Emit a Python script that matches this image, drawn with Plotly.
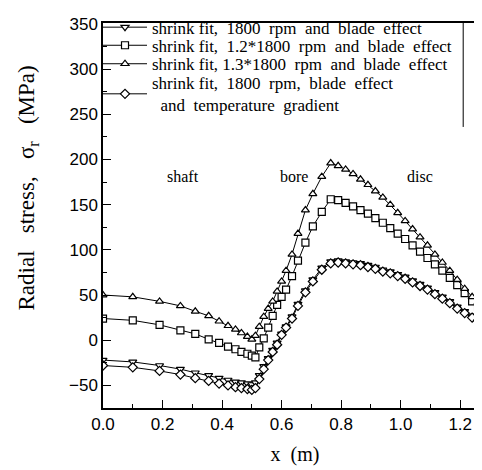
import plotly.graph_objects as go

x_pos = [0.0, 0.1, 0.19, 0.26, 0.31, 0.355, 0.39, 0.42, 0.445, 0.465, 0.485, 0.5, 0.512,
         0.525, 0.54, 0.555, 0.57, 0.585, 0.60, 0.615, 0.635, 0.655, 0.68, 0.705, 0.735, 0.765,
         0.79, 0.815, 0.84, 0.865, 0.89, 0.915, 0.94, 0.965, 0.99, 1.015, 1.04, 1.065, 1.09,
         1.115, 1.14, 1.165, 1.19, 1.215, 1.24, 1.26, 1.275]

s_1800 = [-22, -24, -28, -32, -36, -39, -42, -44, -46, -47, -48, -49, -47,
          -39, -29, -20, -11, -3, 7, 15, 26, 40, 55, 67, 80, 87,
          88, 87, 86, 85, 83, 81, 78, 76, 73, 70, 66, 62, 58,
          53, 48, 43, 37, 32, 27, 24, 23]
s_1_2 = [24, 22, 17, 11, 7, 1, -3, -7, -10, -13, -15, -17, -19,
         -8, 2, 14, 27, 39, 48, 56, 71, 88, 108, 126, 142, 156,
         155, 152, 148, 144, 140, 135, 130, 124, 118, 112, 105, 98, 91,
         84, 77, 69, 61, 52, 43, 37, 31]
s_1_3 = [50, 48, 43, 38, 32, 27, 21, 16, 12, 8, 4, 1, 5,
         15, 26, 35, 43, 54, 65, 77, 95, 118, 144, 162, 181, 196,
         193, 189, 184, 178, 172, 165, 158, 150, 141, 132, 123, 114, 105,
         95, 86, 77, 67, 57, 48, 42, 37]
s_temp = [-28, -30, -34, -38, -42, -45, -48, -50, -52, -53, -54, -55, -53,
          -43, -32, -22, -13, -5, 6, 14, 24, 38, 53, 65, 78, 85,
          86, 85, 84, 83, 81, 79, 76, 74, 71, 68, 64, 60, 56,
          51, 46, 41, 35, 30, 25, 22, 20]

names = ["shrink fit,  1800  rpm  and  blade  effect",
         "shrink fit,  1.2*1800  rpm  and  blade  effect",
         "shrink fit, 1.3*1800  rpm  and  blade  effect",
         "shrink fit,  1800  rpm,  blade  effect<br>  and  temperature  gradient"]
symbols = ["triangle-down", "square", "triangle-up", "diamond"]
series = [s_1800, s_1_2, s_1_3, s_temp]
legend_ids = ["legend", "legend2", "legend3", "legend4"]
legend_y = [0.988, 0.941, 0.893, 0.815]

region_labels = ["shaft", "bore", "disc"]
region_x = [0.27, 0.64, 1.064]
region_y = [181, 181, 181]

fig = go.Figure()
for name, sym, ys, lid in zip(names, symbols, series, legend_ids):
    fig.add_trace(go.Scatter(
        x=x_pos, y=ys, mode="lines+markers", name=name, legend=lid,
        line=dict(color="black", width=1),
        marker=dict(symbol=sym, size=7, color="white",
                    line=dict(color="black", width=1.2)),
    ))

for t, xx, yy in zip(region_labels, region_x, region_y):
    fig.add_annotation(x=xx, y=yy, text=t, showarrow=False,
                       font=dict(family="Liberation Serif", size=16, color="black"))

fig.add_annotation(xref="paper", yref="paper", x=-0.196, y=0.572, textangle=-90,
                   xanchor="center", yanchor="middle",
                   text="Radial   stress,   σ<sub>r</sub>   (MPa)", showarrow=False,
                   font=dict(family="Liberation Serif", size=23, color="black"))

fig.add_shape(type="line", xref="paper", yref="paper", x0=0.938, x1=0.938, y0=0.73, y1=1,
              line=dict(color="black", width=1))

leg_common = dict(x=-0.013, xanchor="left", yanchor="middle",
                  bgcolor="rgba(0,0,0,0)", borderwidth=0,
                  font=dict(family="Liberation Serif", size=17, color="black"),
                  tracegroupgap=0, itemwidth=44)
legends = {}
for lid, ly in zip(legend_ids, legend_y):
    legends[lid] = dict(leg_common, y=ly)

fig.update_layout(
    width=482, height=470,
    margin=dict(l=95, r=3, t=15, b=70, autoexpand=False),
    plot_bgcolor="white", paper_bgcolor="white",
    showlegend=True,
    **legends,
    xaxis=dict(range=[0, 1.29], tickvals=[0, 0.2, 0.4, 0.6, 0.8, 1.0, 1.2],
               ticktext=["0.0", "0.2", "0.4", "0.6", "0.8", "1.0", "1.2"],
               ticks="inside", ticklen=8, tickcolor="black", automargin=False,
               minor=dict(dtick=0.1, ticks="inside", ticklen=4, tickcolor="black"),
               showline=True, linecolor="black", linewidth=1.5, mirror=True,
               showgrid=False, zeroline=False,
               tickfont=dict(family="Liberation Sans", size=17, color="black"),
               title=dict(text="x  (m)", font=dict(family="Liberation Serif", size=20, color="black"),
                          standoff=14)),
    yaxis=dict(range=[-75, 351], tickvals=[-50, 0, 50, 100, 150, 200, 250, 300, 350],
               ticks="inside", ticklen=8, tickcolor="black", automargin=False,
               minor=dict(dtick=25, ticks="inside", ticklen=4, tickcolor="black"),
               showline=True, linecolor="black", linewidth=1.5, mirror=True,
               showgrid=False, zeroline=False,
               tickfont=dict(family="Liberation Sans", size=17, color="black")),
)

fig.write_html("out.html")
